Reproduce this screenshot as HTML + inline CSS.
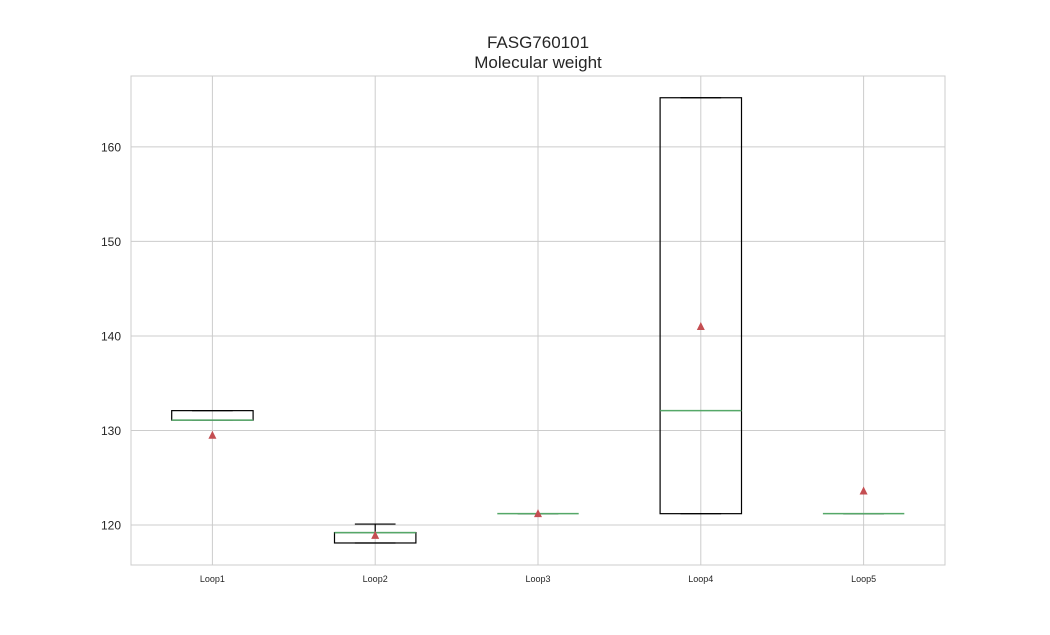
<!DOCTYPE html>
<html><head><meta charset="utf-8"><style>
body{margin:0;background:#fff;}
svg{display:block;font-family:"Liberation Sans",Arial,sans-serif;}
</style></head><body>
<svg id="chart" width="1050" height="635" xmlns="http://www.w3.org/2000/svg">
<rect width="1050" height="635" fill="#fff"/>
<text x="538" y="48" text-anchor="middle" font-size="17" fill="#262626">FASG760101</text>
<text x="538" y="68" text-anchor="middle" font-size="17" fill="#262626">Molecular weight</text>
<g id="plot"></g>
</svg>
<script>
const categories = ["Loop1","Loop2","Loop3","Loop4","Loop5"];
const whiskerLow = [131.1, 118.1, 121.2, 121.2, 121.2];
const q1 = [131.1, 118.1, 121.2, 121.2, 121.2];
const medians = [131.1, 119.2, 121.2, 132.1, 121.2];
const q3 = [132.1, 119.2, 121.2, 165.2, 121.2];
const whiskerHigh = [132.1, 120.1, 121.2, 165.2, 121.2];
const means = [129.5, 118.9, 121.2, 141.0, 123.6];
const yTicks = [120, 130, 140, 150, 160];

const L=131,R=945,T=76,B=565;
const yMin=115.77,yMax=167.5;
const y=v=>B-(v-yMin)/(yMax-yMin)*(B-T);
const step=(R-L)/categories.length;
const x=i=>L+step*(i+0.5);
const NS="http://www.w3.org/2000/svg";
const g=document.getElementById('plot');
function mk(tag,attrs,parent){const e=document.createElementNS(NS,tag);for(const k in attrs)e.setAttribute(k,attrs[k]);(parent||g).appendChild(e);return e;}

const bg=mk('rect',{x:L,y:T,width:R-L,height:B-T,fill:'#fff',stroke:'#cccccc','stroke-width':1});


yTicks.forEach(t=>{
  const ln=mk('line',{x1:L,x2:R,y1:y(t),y2:y(t),stroke:'#cccccc','stroke-width':1});
  
  
  const tx=mk('text',{x:L-10,y:y(t)+4.5,'text-anchor':'end','font-size':12,fill:'#262626'});
  tx.textContent=t;
  
  
});
categories.forEach((c,i)=>{
  const ln=mk('line',{x1:x(i),x2:x(i),y1:T,y2:B,stroke:'#cccccc','stroke-width':1});
  
  
  const tx=mk('text',{x:x(i),y:B+17,'text-anchor':'middle','font-size':9,fill:'#262626'});
  tx.textContent=c;
  
  
});
const bw=step*0.5, cw=bw*0.5;
categories.forEach((c,i)=>{
  const grp=mk('g',{});
  
  
  const cx=x(i);
  mk('line',{x1:cx,x2:cx,y1:y(q3[i]),y2:y(whiskerHigh[i]),stroke:'#000','stroke-width':1.2},grp);
  mk('line',{x1:cx,x2:cx,y1:y(q1[i]),y2:y(whiskerLow[i]),stroke:'#000','stroke-width':1.2},grp);
  mk('line',{x1:cx-cw/2,x2:cx+cw/2,y1:y(whiskerHigh[i]),y2:y(whiskerHigh[i]),stroke:'#000','stroke-width':1.2},grp);
  mk('line',{x1:cx-cw/2,x2:cx+cw/2,y1:y(whiskerLow[i]),y2:y(whiskerLow[i]),stroke:'#000','stroke-width':1.2},grp);
  mk('rect',{x:cx-bw/2,y:y(q3[i]),width:bw,height:Math.max(0,y(q1[i])-y(q3[i])),fill:'none',stroke:'#000','stroke-width':1.2},grp);
  mk('line',{x1:cx-bw/2,x2:cx+bw/2,y1:y(medians[i]),y2:y(medians[i]),stroke:'#55a868','stroke-width':1.5},grp);
  const my=y(means[i]);
  const tri=mk('polygon',{points:`${cx},${my-4.5} ${cx-4},${my+3.5} ${cx+4},${my+3.5}`,fill:'#c44e52'},grp);
  
  
});
</script>
</body></html>
